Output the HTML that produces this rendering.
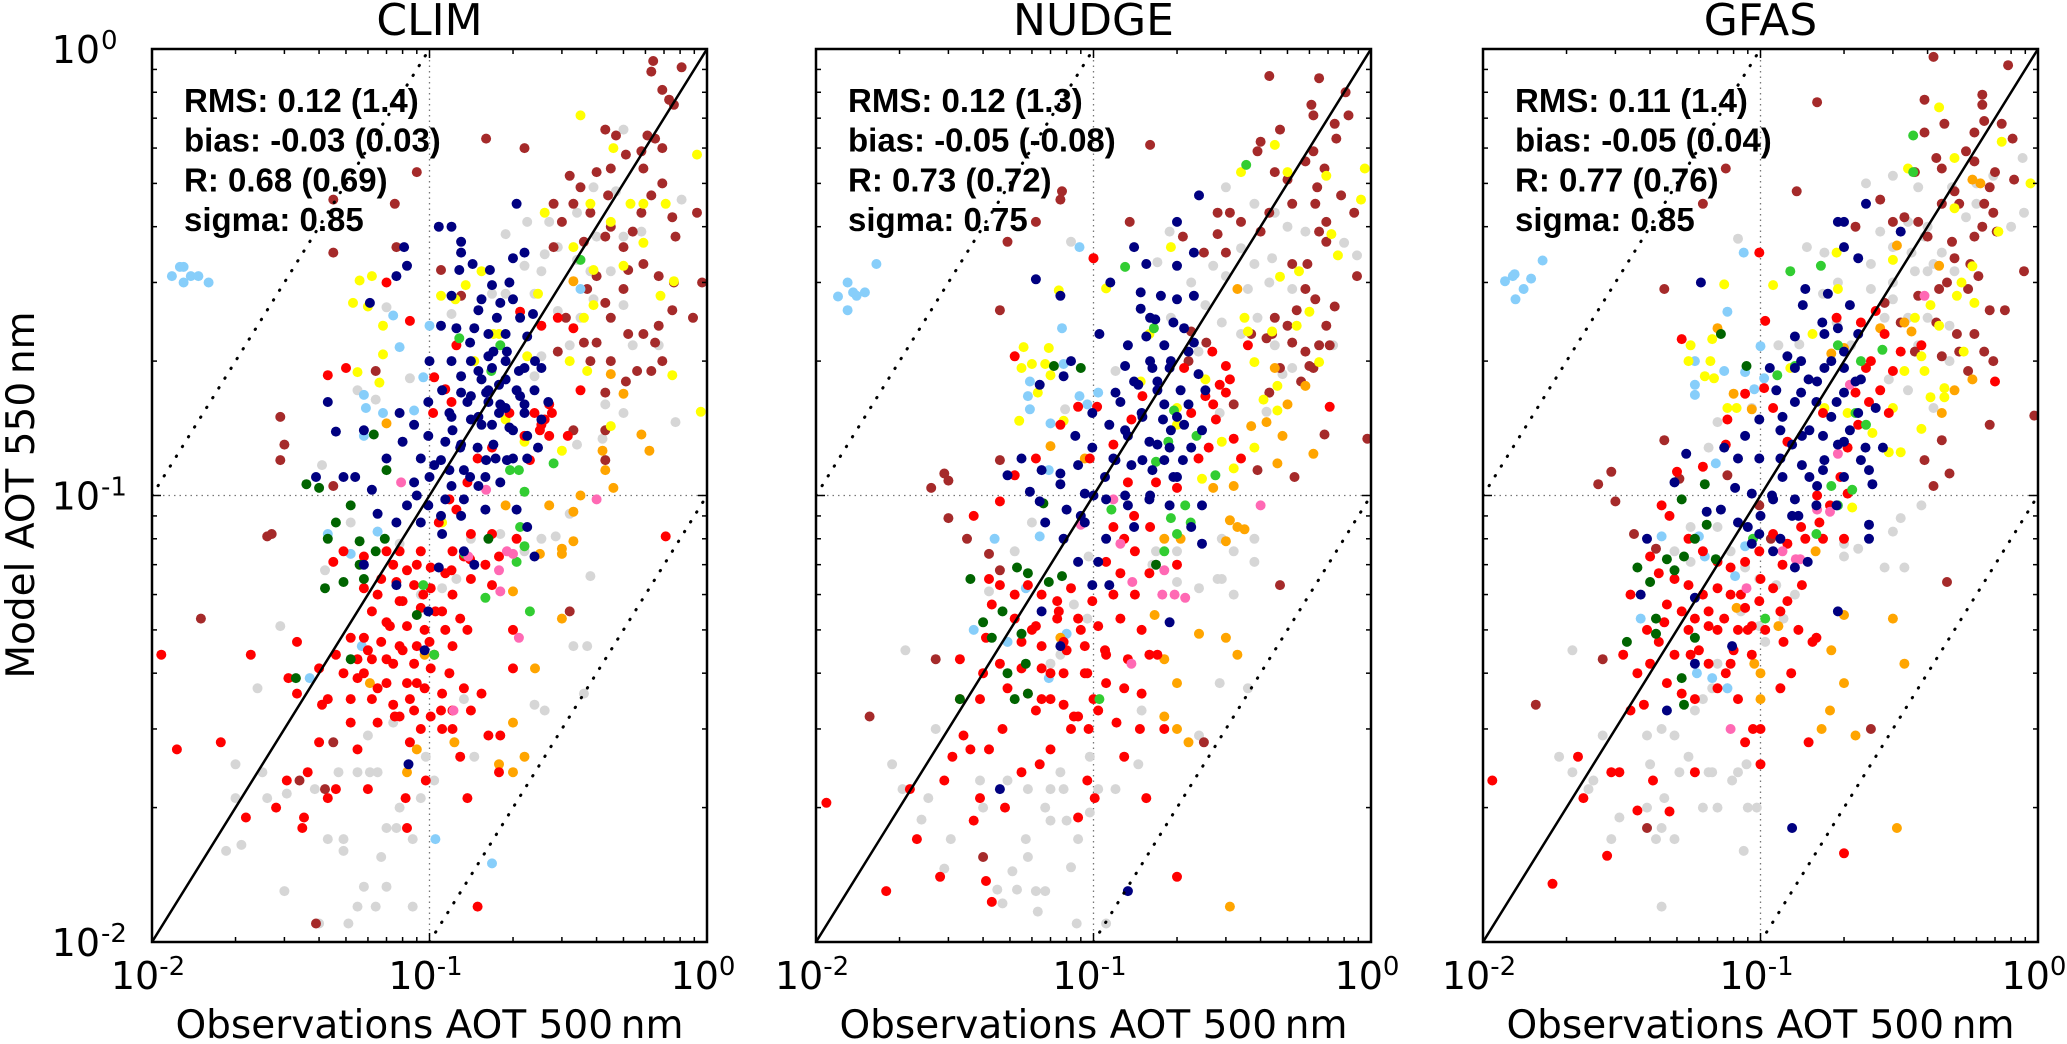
<!DOCTYPE html>
<html><head><meta charset="utf-8"><title>AOT scatter</title>
<style>
html,body{margin:0;padding:0;background:#fff;}
svg{display:block;font-family:"DejaVu Sans","Liberation Sans",sans-serif;}
</style></head>
<body>
<svg id="fig" width="2067" height="1044" viewBox="0 0 2067 1044" xmlns="http://www.w3.org/2000/svg">
<g id="root"></g>
</svg>
<script>
// ---------- data (observed AOT 500nm, model AOT 550nm) ----------
const panelTitles = ["CLIM", "NUDGE", "GFAS"];
const statsRMS = ["RMS: 0.12 (1.4)", "RMS: 0.12 (1.3)", "RMS: 0.11 (1.4)"];
const statsBias = ["bias: -0.03 (0.03)", "bias: -0.05 (-0.08)", "bias: -0.05 (0.04)"];
const statsR = ["R: 0.68 (0.69)", "R: 0.73 (0.72)", "R: 0.77 (0.76)"];
const statsSigma = ["sigma: 0.85", "sigma: 0.75", "sigma: 0.85"];
const majorTicks = [0.01, 0.1, 1];
const majorExp = ["-2", "-1", "0"];
const refLineFactors = [1, 10, 0.1];

const climBrown = [[.64,.94],[.63,.89],[.81,.91],[.69,.81],[.73,.77],[.76,.75],[.43,.66],[.47,.64],[.61,.64],[.65,.63],[.69,.6],[.58,.59],[.51,.58],[.45,.54],[.40,.53],[.32,.52],[.59,.54],[.69,.5],[.44,.47],[.35,.49],[.28,.45],[.33,.45],[.38,.43],[.63,.47],[.75,.42],[.92,.43],[.58,.43],[.54,.39],[.45,.4],[.30,.41],[.28,.36],[.36,.37],[.43,.38],[.5,.36],[.77,.38],[.59,.33],[.52,.32],[.4,.31],[.37,.29],[.43,.27],[.5,.29],[.67,.31],[.76,.3],[.96,.3],[.89,.25],[.75,.26],[.67,.24],[.59,.23],[.52,.23],[.45,.25],[.4,.22],[.36,.22],[.31,.25],[.29,.21],[.38,.2],[.45,.2],[.65,.22],[.69,.2],[.56,.19],[.51,.18],[.43,.17],[.63,.19],[.43,.14],[.43,.12],[.33,.14],[.16,.63],[.22,.6],[.09,.53],[.075,.45],[.045,.46],[.045,.35],[.076,.36],[.064,.19],[.029,.15],[.030,.13],[.029,.12],[.045,.105],[.026,.081],[.027,.082],[.015,.053],[.32,.055],[.042,.022],[.034,.023],[.045,.028],[.039,.011],[.13,.28],[.11,.32]];
const climNavy = [[.206,.45],[.12,.40],[.13,.37],[.13,.35],[.2,.34],[.22,.35],[.165,.32],[.143,.33],[.128,.32],[.081,.36],[.076,.31],[.061,.27],[.168,.296],[.194,.30],[.2,.275],[.236,.255],[.154,.275],[.175,.25],[.212,.25],[.125,.237],[.145,.237],[.163,.23],[.188,.23],[.225,.227],[.11,.24],[.10,.2],[.12,.2],[.141,.2],[.163,.205],[.188,.2],[.22,.193],[.253,.193],[.13,.185],[.154,.182],[.178,.177],[.206,.172],[.239,.172],[.268,.162],[.111,.172],[.141,.167],[.163,.162],[.188,.157],[.22,.153],[.253,.148],[.099,.162],[.118,.153],[.141,.148],[.168,.144],[.194,.142],[.225,.136],[.246,.128],[.078,.153],[.088,.144],[.099,.136],[.114,.132],[.129,.128],[.149,.128],[.173,.121],[.2,.121],[.225,.121],[.058,.14],[.046,.139],[.08,.132],[.093,.121],[.104,.117],[.118,.114],[.133,.114],[.159,.11],[.18,.107],[.07,.121],[.088,.107],[.099,.095],[.114,.098],[.133,.098],[.159,.093],[.206,.093],[.225,.085],[.239,.073],[.062,.103],[.054,.11],[.049,.11],[.039,.11],[.083,.095],[.093,.087],[.111,.082],[.133,.075],[.145,.07],[.108,.069],[.076,.087],[.065,.091],[.058,.07],[.076,.063],[.099,.055],[.096,.045],[.084,.025],[.043,.162],[.108,.40],[.083,.327],[.163,.172],[.178,.153],[.154,.144],[.188,.182],[.168,.193],[.137,.162],[.212,.167],[.121,.14]];
const climNavyCore = [[.15,.19],[.17,.21],[.14,.22],[.19,.21],[.21,.19],[.16,.17],[.18,.16],[.13,.17],[.12,.15],[.15,.15],[.2,.14],[.17,.13],[.13,.13],[.11,.12],[.14,.11],[.16,.12],[.19,.12],[.12,.105],[.1,.11],[.09,.1],[.11,.09],[.13,.09],[.15,.105],[.22,.16],[.24,.2],[.18,.27],[.15,.26],[.12,.28]];
const climRed = [[.07,.3],[.085,.246],[.043,.186],[.05,.193],[.104,.184],[.114,.173],[.125,.217],[.212,.258],[.253,.24],[.29,.25],[.33,.237],[.35,.172],[.239,.153],[.26,.148],[.276,.153],[.253,.144],[.27,.136],[.315,.136],[.22,.136],[.194,.153],[.12,.162],[.103,.153],[.168,.128],[.149,.121],[.137,.107],[.118,.098],[.125,.093],[.108,.087],[.141,.082],[.168,.082],[.206,.08],[.178,.073],[.159,.07],[.133,.073],[.121,.075],[.093,.075],[.078,.075],[.07,.075],[.058,.073],[.049,.075],[.045,.071],[.074,.07],[.083,.068],[.09,.07],[.101,.069],[.114,.067],[.067,.065],[.076,.064],[.088,.063],[.101,.062],[.121,.06],[.141,.065],[.168,.063],[.058,.062],[.065,.06],[.078,.058],[.093,.056],[.111,.055],[.129,.053],[.062,.055],[.072,.051],[.083,.051],[.096,.05],[.114,.05],[.137,.05],[.052,.048],[.058,.048],[.067,.047],[.078,.046],[.09,.046],[.104,.044],[.121,.046],[.046,.044],[.055,.043],[.062,.043],[.074,.042],[.088,.042],[.101,.041],[.118,.04],[.04,.041],[.049,.04],[.058,.04],[.07,.038],[.083,.038],[.096,.037],[.111,.036],[.133,.037],[.154,.036],[.043,.035],[.052,.035],[.062,.035],[.074,.034],[.088,.033],[.101,.032],[.121,.033],[.141,.033],[.065,.031],[.078,.032],[.093,.030],[.111,.030],[.052,.031],[.041,.034],[.121,.03],[.129,.026],[.163,.029],[.178,.024],[.137,.021],[.2,.05],[.2,.041],[.0123,.027],[.0177,.028],[.0218,.019],[.0227,.044],[.0108,.044],[.031,.039],[.0333,.047],[.0333,.036],[.04,.028],[.0364,.024],[.0306,.023],[.0353,.019],[.0348,.018],[.028,.020],[.043,.021],[.046,.022],[.055,.027],[.06,.022],[.083,.018],[.082,.021],[.097,.023],[.149,.012],[.18,.029],[.71,.081]];
const climRedExtra = [[.08,.045],[.085,.035],[.07,.043],[.09,.038],[.075,.032],[.1,.047],[.065,.037],[.06,.045],[.07,.052],[.095,.06],[.105,.055],[.085,.028],[.11,.033],[.055,.039],[.08,.058],[.12,.068],[.14,.072],[.25,.14],[.27,.16],[.23,.12]];
const climGray = [[.5,.66],[.47,.48],[.39,.49],[.34,.43],[.27,.41],[.225,.41],[.188,.385],[.26,.347],[.29,.36],[.34,.337],[.4,.38],[.5,.38],[.58,.39],[.38,.318],[.45,.318],[.253,.318],[.22,.327],[.188,.283],[.168,.283],[.239,.283],[.29,.259],[.35,.25],[.39,.275],[.5,.267],[.54,.217],[.67,.217],[.81,.46],[.89,.25],[.77,.146],[.43,.16],[.34,.13],[.42,.134],[.5,.153],[.32,.217],[.253,.205],[.239,.185],[.12,.255],[.07,.264],[.085,.183],[.055,.172],[.064,.164],[.041,.117],[.052,.087],[.042,.068],[.065,.083],[.078,.078],[.093,.075],[.141,.08],[.18,.082],[.22,.075],[.253,.08],[.285,.081],[.32,.091],[.38,.066],[.37,.046],[.33,.046],[.239,.034],[.26,.033],[.36,.036],[.125,.065],[.111,.062],[.093,.06],[.024,.037],[.029,.051],[.020,.025],[.020,.021],[.0185,.016],[.021,.0165],[.026,.021],[.0306,.0215],[.025,.024],[.0386,.022],[.043,.017],[.049,.017],[.049,.016],[.055,.024],[.061,.024],[.065,.024],[.07,.018],[.076,.018],[.087,.017],[.078,.02],[.093,.021],[.104,.023],[.067,.0155],[.055,.012],[.064,.012],[.07,.0133],[.058,.0133],[.087,.012],[.030,.013],[.04,.011],[.051,.011],[.145,.026],[.121,.033],[.133,.035],[.074,.031],[.06,.029],[.047,.024],[.097,.026]];
const climYellow = [[.35,.71],[.46,.6],[.92,.58],[.71,.45],[.53,.45],[.59,.45],[.26,.43],[.38,.45],[.45,.41],[.33,.36],[.39,.32],[.5,.327],[.59,.368],[.76,.302],[.68,.28],[.39,.267],[.36,.25],[.32,.2],[.37,.19],[.75,.186],[.95,.154],[.45,.143],[.30,.126],[.22,.132],[.188,.148],[.17,.23],[.145,.2],[.246,.283],[.154,.318],[.135,.296],[.056,.303],[.062,.31],[.053,.27],[.06,.265],[.068,.24],[.068,.207],[.055,.189],[.066,.179],[.11,.28],[.124,.275],[.111,.087],[.225,.205],[.178,.23]];
const climLightBlue = [[.0118,.31],[.0126,.325],[.013,.325],[.013,.3],[.0138,.31],[.0147,.31],[.016,.3],[.074,.253],[.078,.215],[.058,.168],[.059,.157],[.068,.153],[.058,.136],[.1,.24],[.095,.184],[.088,.155],[.043,.082],[.052,.074],[.065,.083],[.057,.046],[.037,.039],[.085,.028],[.105,.017],[.168,.015],[.35,.29]];
const climOrange = [[.33,.302],[.45,.187],[.5,.169],[.58,.137],[.62,.126],[.42,.126],[.43,.114],[.46,.104],[.35,.1],[.33,.092],[.3,.076],[.3,.074],[.33,.079],[.25,.074],[.27,.095],[.2,.061],[.3,.053],[.24,.041],[.2,.031],[.178,.025],[.2,.024],[.22,.026],[.123,.028],[.09,.027],[.083,.024],[.061,.038],[.096,.044],[.07,.145],[.188,.095]];
const climGreen = [[.35,.337],[.28,.118],[.21,.114],[.195,.114],[.22,.102],[.212,.085],[.22,.077],[.206,.071],[.159,.059],[.23,.055],[.095,.063],[.104,.044],[.134,.074],[.128,.225],[.167,.19],[.18,.217]];
const climDarkGreen = [[.063,.137],[.036,.106],[.04,.104],[.046,.087],[.052,.095],[.043,.08],[.056,.079],[.069,.08],[.064,.075],[.056,.07],[.042,.062],[.049,.064],[.058,.065],[.09,.054],[.052,.043],[.033,.039],[.163,.08],[.07,.114]];
const climPink = [[.40,.098],[.2,.074],[.21,.048],[.18,.061],[.178,.068],[.138,.073],[.16,.103],[.122,.033],[.079,.107],[.19,.075]];

const nudgeBrown = [[.43,.87],[.65,.86],[.81,.8],[.61,.75],[.62,.71],[.74,.68],[.47,.66],[.83,.71],[.75,.63],[.39,.59],[.40,.62],[.62,.59],[.58,.56],[.68,.54],[.45,.53],[.5,.51],[.64,.49],[.78,.47],[.52,.45],[.63,.45],[.87,.43],[.43,.43],[.69,.41],[.65,.39],[.34,.41],[.31,.43],[.28,.43],[.28,.385],[.25,.35],[.3,.35],[.4,.39],[.52,.33],[.59,.33],[.69,.37],[.58,.29],[.63,.275],[.74,.265],[.54,.26],[.45,.25],[.37,.23],[.44,.23],[.5,.24],[.52,.22],[.58,.21],[.65,.217],[.71,.217],[.69,.24],[.42,.225],[.6,.195],[.62,.193],[.56,.18],[.47,.193],[.43,.17],[.32,.16],[.39,.114],[.53,.11],[.68,.137],[.97,.134],[.89,.31],[.21,.38],[.16,.61],[.135,.41],[.077,.48],[.076,.46],[.062,.41],[.049,.37],[.046,.26],[.1,.34],[.046,.12],[.029,.112],[.03,.108],[.026,.104],[.03,.089],[.035,.08],[.042,.074],[.046,.068],[.027,.043],[.0156,.032],[.04,.0155],[.25,.028],[.47,.063],[.255,.22],[.22,.2],[.225,.233]];
const nudgeNavy = [[.24,.47],[.2,.41],[.14,.36],[.155,.33],[.2,.327],[.23,.35],[.115,.3],[.062,.305],[.148,.285],[.175,.28],[.2,.275],[.23,.28],[.148,.262],[.133,.217],[.105,.23],[.083,.2],[.078,.185],[.13,.195],[.167,.248],[.194,.244],[.212,.237],[.155,.227],[.18,.217],[.22,.21],[.163,.193],[.188,.193],[.239,.187],[.145,.177],[.17,.172],[.206,.172],[.253,.172],[.125,.162],[.149,.153],[.178,.148],[.212,.144],[.246,.14],[.099,.153],[.114,.144],[.133,.136],[.159,.132],[.188,.128],[.225,.128],[.086,.136],[.099,.128],[.118,.121],[.137,.117],[.163,.114],[.194,.11],[.088,.117],[.076,.112],[.065,.114],[.055,.121],[.049,.111],[.059,.102],[.076,.106],[.093,.101],[.111,.098],[.133,.095],[.159,.098],[.188,.095],[.246,.095],[.246,.078],[.225,.085],[.064,.097],[.08,.093],[.093,.087],[.111,.08],[.067,.087],[.078,.08],[.088,.071],[.099,.063],[.114,.063],[.104,.071],[.065,.055],[.076,.046],[.188,.052],[.046,.022],[.133,.013],[.076,.28],[.064,.177]];
const nudgeNavyCore = [[.14,.18],[.16,.2],[.18,.16],[.2,.15],[.15,.15],[.17,.13],[.13,.14],[.12,.12],[.15,.12],[.18,.12],[.2,.11],[.11,.11],[.1,.1],[.13,.1],[.16,.1],[.19,.14],[.22,.16],[.17,.18],[.12,.17],[.21,.12],[.09,.09],[.14,.085],[.16,.25],[.19,.2],[.23,.22]];
const nudgeRed = [[.1,.34],[.052,.205],[.088,.158],[.103,.158],[.076,.144],[.062,.121],[.052,.111],[.097,.121],[.118,.13],[.133,.107],[.168,.107],[.2,.104],[.239,.121],[.26,.128],[.225,.153],[.253,.167],[.285,.177],[.276,.148],[.31,.182],[.32,.134],[.34,.121],[.268,.21],[.36,.217],[.3,.195],[.71,.158],[.212,.193],[.15,.167],[.137,.148],[.037,.09],[.046,.097],[.042,.065],[.118,.085],[.129,.08],[.141,.075],[.111,.071],[.125,.067],[.159,.067],[.2,.07],[.141,.06],[.118,.06],[.099,.058],[.083,.062],[.074,.058],[.065,.06],[.058,.063],[.052,.06],[.046,.063],[.043,.057],[.052,.053],[.062,.051],[.074,.053],[.088,.053],[.104,.051],[.125,.053],[.149,.05],[.055,.047],[.065,.046],[.078,.047],[.093,.046],[.111,.044],[.133,.043],[.159,.044],[.046,.042],[.055,.041],[.065,.041],[.078,.04],[.093,.04],[.111,.038],[.129,.037],[.149,.036],[.049,.037],[.058,.036],[.07,.035],[.078,.034],[.088,.032],[.104,.033],[.121,.031],[.062,.033],[.083,.03],[.096,.03],[.039,.035],[.033,.035],[.04,.04],[.033,.043],[.041,.048],[.034,.029],[.036,.027],[.042,.027],[.047,.03],[.031,.026],[.029,.023],[.039,.021],[.048,.02],[.055,.024],[.064,.025],[.07,.027],[.095,.023],[.101,.021],[.088,.019],[.129,.026],[.147,.03],[.155,.021],[.18,.03],[.17,.044],[.2,.014],[.0109,.0205],[.0218,.022],[.0231,.017],[.0179,.013],[.028,.014],[.041,.0137],[.043,.0123],[.037,.0187]];
const nudgeRedExtra = [[.08,.045],[.07,.04],[.09,.05],[.1,.035],[.085,.032],[.075,.055],[.06,.05],[.11,.045],[.095,.04],[.065,.035],[.14,.09],[.16,.085],[.27,.16],[.3,.17]];
const nudgeGray = [[.188,.39],[.3,.49],[.38,.45],[.45,.43],[.5,.4],[.58,.39],[.34,.358],[.38,.33],[.44,.34],[.27,.327],[.3,.31],[.36,.29],[.43,.3],[.52,.29],[.225,.3],[.19,.25],[.253,.267],[.29,.244],[.34,.23],[.39,.25],[.45,.217],[.52,.193],[.73,.217],[.89,.345],[.8,.368],[.42,.154],[.48,.187],[.239,.21],[.285,.153],[.17,.333],[.083,.37],[.079,.156],[.12,.19],[.168,.075],[.2,.075],[.29,.08],[.32,.075],[.38,.08],[.29,.065],[.38,.071],[.32,.06],[.28,.065],[.24,.062],[.2,.064],[.163,.07],[.096,.073],[.085,.057],[.095,.053],[.076,.044],[.07,.042],[.06,.087],[.052,.075],[.042,.061],[.049,.047],[.021,.045],[.027,.03],[.0188,.025],[.0205,.022],[.0254,.021],[.024,.0188],[.0306,.017],[.029,.0146],[.039,.023],[.04,.02],[.049,.023],[.058,.022],[.07,.022],[.076,.024],[.078,.022],[.067,.02],[.07,.0187],[.08,.0187],[.088,.017],[.097,.0195],[.104,.022],[.12,.022],[.097,.026],[.145,.025],[.149,.033],[.24,.029],[.36,.037],[.285,.038],[.057,.017],[.058,.0155],[.051,.0144],[.062,.013],[.067,.013],[.053,.0131],[.047,.0122],[.045,.0131],[.083,.0147],[.087,.011],[.111,.011],[.063,.0117]];
const nudgeYellow = [[.45,.61],[.34,.53],[.5,.53],[.69,.52],[.95,.54],[.92,.46],[.76,.345],[.72,.385],[.55,.318],[.47,.309],[.6,.258],[.54,.24],[.44,.233],[.38,.199],[.35,.25],[.36,.233],[.65,.199],[.46,.176],[.46,.155],[.41,.164],[.38,.128],[.29,.132],[.32,.115],[.246,.109],[.253,.182],[.2,.144],[.159,.23],[.148,.18],[.19,.36],[.111,.291],[.075,.288],[.056,.215],[.069,.214],[.06,.197],[.055,.193],[.067,.197],[.07,.186],[.063,.17],[.054,.147],[.078,.147],[.2,.157]];
const nudgeLightBlue = [[.012,.279],[.013,.3],[.0136,.285],[.014,.28],[.015,.285],[.013,.26],[.0165,.33],[.089,.36],[.077,.237],[.078,.197],[.059,.18],[.058,.167],[.059,.156],[.095,.16],[.104,.17],[.089,.167],[.07,.145],[.069,.114],[.044,.08],[.064,.081],[.057,.062],[.037,.05],[.049,.047],[.069,.039],[.08,.049]];
const nudgeOrange = [[.33,.29],[.45,.193],[.58,.176],[.5,.16],[.37,.143],[.42,.146],[.48,.136],[.62,.124],[.46,.118],[.32,.105],[.27,.104],[.31,.088],[.33,.085],[.35,.084],[.3,.079],[.206,.08],[.18,.08],[.166,.054],[.24,.049],[.3,.048],[.33,.044],[.2,.038],[.18,.032],[.2,.03],[.22,.028],[.18,.043],[.31,.012],[.07,.129],[.076,.048],[.093,.121]];
const nudgeGreen = [[.355,.55],[.13,.325],[.165,.237],[.195,.155],[.186,.132],[.235,.136],[.275,.111],[.214,.095],[.19,.089],[.224,.087],[.18,.075],[.2,.082],[.105,.035],[.116,.093],[.168,.119]];
const nudgeDarkGreen = [[.072,.195],[.09,.193],[.066,.096],[.036,.065],[.053,.069],[.058,.067],[.069,.064],[.077,.066],[.04,.052],[.043,.048],[.049,.04],[.057,.042],[.052,.035],[.058,.036],[.033,.035],[.047,.055],[.168,.07],[.055,.049]];
const nudgePink = [[.4,.095],[.18,.068],[.177,.06],[.196,.06],[.214,.059],[.137,.042],[.138,.064],[.125,.078],[.09,.086],[.118,.098]];

const gfasBrown = [[.42,.96],[.78,.92],[.63,.79],[.63,.75],[.39,.77],[.64,.69],[.74,.68],[.59,.65],[.46,.68],[.39,.65],[.81,.63],[.43,.57],[.45,.54],[.55,.59],[.59,.56],[.7,.53],[.82,.51],[.67,.49],[.5,.48],[.45,.45],[.52,.45],[.64,.45],[.69,.43],[.63,.4],[.36,.53],[.27,.46],[.3,.41],[.33,.42],[.37,.41],[.4,.38],[.49,.37],[.59,.38],[.71,.39],[.57,.33],[.5,.34],[.44,.29],[.61,.31],[.56,.29],[.67,.26],[.76,.26],[.47,.3],[.37,.28],[.28,.27],[.32,.244],[.43,.244],[.51,.23],[.59,.23],[.64,.21],[.69,.2],[.56,.19],[.52,.21],[.45,.205],[.36,.21],[.67,.144],[.97,.151],[.45,.133],[.48,.112],[.39,.12],[.42,.105],[.89,.318],[.47,.064],[.25,.03],[.22,.4],[.16,.76],[.135,.48],[.075,.54],[.062,.45],[.045,.29],[.045,.133],[.029,.113],[.026,.106],[.03,.097],[.035,.082],[.042,.076],[.051,.109],[.076,.111],[.027,.043],[.0155,.034],[.039,.018],[.109,.08],[.099,.095]];
const gfasNavy = [[.24,.45],[.2,.41],[.32,.39],[.2,.36],[.225,.34],[.061,.3],[.145,.29],[.175,.283],[.21,.267],[.142,.267],[.133,.227],[.167,.244],[.19,.237],[.225,.23],[.133,.193],[.149,.182],[.17,.193],[.2,.193],[.23,.182],[.114,.172],[.133,.162],[.159,.162],[.188,.162],[.225,.153],[.26,.157],[.099,.148],[.118,.14],[.141,.136],[.168,.136],[.2,.132],[.239,.128],[.276,.128],[.088,.136],[.074,.128],[.083,.121],[.099,.121],[.118,.121],[.141,.117],[.168,.114],[.2,.11],[.246,.114],[.253,.106],[.054,.124],[.049,.107],[.081,.104],[.093,.101],[.111,.098],[.133,.098],[.159,.095],[.188,.095],[.246,.086],[.246,.08],[.064,.092],[.072,.093],[.083,.087],[.099,.082],[.118,.08],[.137,.09],[.148,.071],[.133,.069],[.111,.075],[.093,.078],[.039,.08],[.037,.06],[.058,.059],[.079,.046],[.058,.042],[.046,.033],[.19,.055],[.13,.018],[.19,.41],[.125,.205],[.108,.193]];
const gfasNavyCore = [[.14,.17],[.16,.18],[.18,.15],[.2,.17],[.15,.14],[.17,.12],[.13,.13],[.12,.11],[.15,.11],[.19,.13],[.21,.14],[.11,.1],[.1,.09],[.13,.09],[.16,.105],[.22,.18],[.18,.2],[.12,.15],[.23,.12],[.09,.085],[.14,.2],[.17,.23],[.2,.21]];
const gfasRed = [[.099,.35],[.052,.224],[.104,.246],[.088,.169],[.103,.174],[.076,.148],[.075,.13],[.062,.116],[.05,.113],[.111,.157],[.125,.132],[.188,.25],[.23,.244],[.26,.259],[.28,.23],[.32,.21],[.38,.217],[.24,.193],[.27,.172],[.246,.162],[.225,.144],[.206,.128],[.29,.153],[.7,.18],[.168,.153],[.194,.11],[.206,.101],[.178,.095],[.163,.087],[.145,.08],[.125,.078],[.111,.082],[.099,.075],[.088,.071],[.078,.069],[.07,.071],[.062,.075],[.055,.08],[.047,.09],[.044,.095],[.04,.073],[.043,.067],[.049,.065],[.055,.063],[.062,.06],[.07,.062],[.078,.06],[.088,.056],[.099,.058],[.111,.062],[.125,.058],[.141,.063],[.168,.08],[.2,.08],[.118,.055],[.046,.057],[.052,.055],[.058,.053],[.065,.051],[.074,.053],[.083,.05],[.093,.051],[.104,.05],[.121,.047],[.137,.05],[.154,.047],[.034,.06],[.039,.05],[.043,.047],[.049,.044],[.056,.044],[.065,.042],[.078,.042],[.093,.044],[.032,.044],[.036,.04],[.04,.042],[.046,.038],[.052,.036],[.058,.035],[.07,.037],[.083,.035],[.094,.03],[.1,.03],[.118,.037],[.129,.04],[.034,.033],[.038,.034],[.029,.024],[.031,.024],[.022,.026],[.023,.021],[.0108,.023],[.0178,.0135],[.028,.0156],[.036,.0197],[.041,.023],[.047,.0196],[.058,.024],[.088,.028],[.1,.025],[.149,.028],[.2,.0158],[.159,.048]];
const gfasRedExtra = [[.07,.05],[.08,.045],[.065,.055],[.09,.05],[.075,.04],[.06,.045],[.085,.06],[.1,.065],[.12,.07],[.055,.05],[.045,.052],[.14,.085],[.16,.1],[.22,.17],[.25,.2],[.3,.19]];
const gfasGray = [[.24,.5],[.3,.52],[.37,.49],[.45,.45],[.49,.49],[.6,.45],[.69,.52],[.88,.57],[.8,.4],[.89,.43],[.34,.41],[.39,.38],[.45,.35],[.27,.39],[.3,.36],[.25,.33],[.36,.318],[.4,.318],[.5,.318],[.25,.29],[.3,.275],[.34,.25],[.4,.25],[.48,.24],[.37,.217],[.48,.2],[.42,.157],[.34,.172],[.29,.182],[.19,.3],[.168,.283],[.188,.244],[.212,.217],[.147,.36],[.17,.35],[.083,.376],[.138,.218],[.116,.217],[.093,.157],[.07,.146],[.065,.128],[.056,.085],[.049,.075],[.056,.071],[.07,.085],[.078,.075],[.088,.069],[.099,.065],[.114,.063],[.133,.06],[.085,.055],[.099,.051],[.121,.053],[.104,.047],[.07,.042],[.067,.037],[.076,.037],[.159,.048],[.2,.073],[.225,.076],[.28,.069],[.33,.069],[.3,.083],[.32,.089],[.38,.095],[.021,.045],[.027,.029],[.0188,.026],[.021,.024],[.024,.022],[.025,.023],[.031,.019],[.029,.017],[.039,.029],[.044,.03],[.049,.029],[.04,.025],[.039,.02],[.045,.021],[.044,.018],[.049,.017],[.042,.017],[.051,.024],[.055,.026],[.058,.024],[.065,.024],[.067,.024],[.062,.02],[.07,.02],[.079,.023],[.083,.024],[.089,.025],[.09,.02],[.097,.02],[.087,.016],[.058,.033],[.062,.035],[.044,.012],[.2,.078],[.3,.3],[.35,.35],[.4,.4],[.42,.33],[.28,.25],[.55,.42],[.6,.5]];
const gfasYellow = [[.44,.74],[.34,.54],[.5,.57],[.74,.62],[.94,.5],[.5,.44],[.72,.39],[.58,.326],[.53,.3],[.51,.28],[.59,.27],[.41,.267],[.36,.25],[.44,.24],[.54,.21],[.38,.205],[.33,.19],[.46,.174],[.46,.166],[.41,.166],[.39,.19],[.38,.141],[.3,.157],[.29,.125],[.32,.125],[.253,.138],[.206,.153],[.19,.29],[.3,.337],[.154,.23],[.128,.193],[.17,.157],[.214,.094],[.188,.35],[.111,.296],[.074,.297],[.056,.217],[.067,.224],[.055,.2],[.066,.2],[.063,.185],[.068,.183],[.076,.157],[.082,.157]];
const gfasLightBlue = [[.012,.302],[.0128,.31],[.013,.313],[.014,.29],[.0149,.306],[.0131,.275],[.0164,.336],[.087,.35],[.076,.258],[.1,.216],[.058,.2],[.058,.177],[.058,.168],[.074,.19],[.088,.189],[.103,.183],[.095,.173],[.069,.118],[.044,.081],[.06,.081],[.063,.073],[.088,.077],[.081,.066],[.037,.053],[.067,.039],[.059,.04],[.076,.037]];
const gfasOrange = [[.58,.51],[.62,.5],[.31,.363],[.44,.327],[.33,.244],[.35,.233],[.27,.237],[.58,.182],[.5,.172],[.45,.153],[.18,.208],[.2,.214],[.07,.237],[.08,.169],[.093,.156],[.158,.075],[.2,.054],[.3,.053],[.18,.045],[.33,.042],[.2,.038],[.1,.04],[.1,.035],[.095,.042],[.178,.033],[.166,.03],[.22,.029],[.31,.018],[.082,.056],[.116,.051]];
const gfasGreen = [[.355,.64],[.355,.53],[.128,.318],[.165,.327],[.133,.195],[.115,.186],[.19,.217],[.23,.2],[.22,.153],[.275,.212],[.18,.105],[.214,.103],[.19,.095],[.159,.082],[.094,.08],[.104,.053],[.24,.144]];
const gfasDarkGreen = [[.072,.23],[.089,.195],[.063,.106],[.052,.098],[.064,.086],[.058,.08],[.053,.073],[.046,.072],[.049,.068],[.036,.069],[.069,.072],[.04,.064],[.042,.053],[.042,.049],[.033,.047],[.053,.034],[.052,.039],[.058,.048]];
const gfasPink = [[.39,.28],[.21,.177],[.19,.124],[.16,.093],[.178,.092],[.134,.072],[.139,.072],[.089,.062],[.078,.03],[.12,.075]];

const seriesNames = ["gray","brown","lightblue","yellow","orange","red","darkgreen","green","pink","navy"];
const seriesColors = {gray:"#d6d6d6",brown:"#a52a2a",lightblue:"#87cefa",yellow:"#ffff00",orange:"#ffa500",red:"#ff0000",darkgreen:"#006400",green:"#32cd32",pink:"#ff69b4",navy:"#000080"};
const panelSeries = [
  {gray:climGray,brown:climBrown,lightblue:climLightBlue,yellow:climYellow,orange:climOrange,red:climRed.concat(climRedExtra),darkgreen:climDarkGreen,green:climGreen,pink:climPink,navy:climNavy.concat(climNavyCore)},
  {gray:nudgeGray,brown:nudgeBrown,lightblue:nudgeLightBlue,yellow:nudgeYellow,orange:nudgeOrange,red:nudgeRed.concat(nudgeRedExtra),darkgreen:nudgeDarkGreen,green:nudgeGreen,pink:nudgePink,navy:nudgeNavy.concat(nudgeNavyCore)},
  {gray:gfasGray,brown:gfasBrown,lightblue:gfasLightBlue,yellow:gfasYellow,orange:gfasOrange,red:gfasRed.concat(gfasRedExtra),darkgreen:gfasDarkGreen,green:gfasGreen,pink:gfasPink,navy:gfasNavy.concat(gfasNavyCore)}
];

// ---------- layout ----------
const NS = "http://www.w3.org/2000/svg";
const root = document.getElementById("root");
const panelLeft = [152, 816, 1483];
const PW = 555, PT = 49, PH = 893;
const LMIN = -2, LMAX = 0;
function sx(v, L){ return L + (Math.log10(v) - LMIN) / (LMAX - LMIN) * PW; }
function sy(v){ return PT + (LMAX - Math.log10(v)) / (LMAX - LMIN) * PH; }
function mk(tag, attrs, parent){
  const e = document.createElementNS(NS, tag);
  for (const k in attrs) e.setAttribute(k, attrs[k]);
  (parent || root).appendChild(e);
  return e;
}

const defs = mk("defs", {});
panelTitles.forEach((title, p) => {
  const L = panelLeft[p];
  const g = mk("g", {});
  
  

  const cp = mk("clipPath", {id: "clip" + p}, defs);
  mk("rect", {x: L, y: PT, width: PW, height: PH}, cp);

  const t = mk("text", {x: L + PW/2, y: 35, "text-anchor": "middle", "font-size": 44, fill: "#000"}, g);
  t.textContent = title;
  
  

  const plot = mk("g", {"clip-path": "url(#clip" + p + ")"}, g);
  
  

  const gx = mk("line", {x1: sx(0.1, L), x2: sx(0.1, L), y1: PT, y2: PT + PH, stroke: "#777", "stroke-width": 1.3, "stroke-dasharray": "1.5 4"}, plot);
  
  
  const gy = mk("line", {x1: L, x2: L + PW, y1: sy(0.1), y2: sy(0.1), stroke: "#777", "stroke-width": 1.3, "stroke-dasharray": "1.5 4"}, plot);
  
  

  seriesNames.forEach(name => {
    const pts = panelSeries[p][name];
    const sg = mk("g", {fill: seriesColors[name]}, plot);
    
    
    pts.forEach(d => {
      const c = mk("circle", {cx: sx(d[0], L).toFixed(1), cy: sy(d[1]).toFixed(1), r: 5}, sg);
      
      
    });
  });

  refLineFactors.forEach(f => {
    const x0 = Math.max(0.01, 0.01 / f), x1 = Math.min(1, 1 / f);
    const ln = mk("line", {x1: sx(x0, L), y1: sy(x0 * f), x2: sx(x1, L), y2: sy(x1 * f), stroke: "#000",
      "stroke-width": f === 1 ? 2.5 : 3, "stroke-linecap": "round"}, plot);
    if (f !== 1) ln.setAttribute("stroke-dasharray", "0.5 11");
    
    
  });

  const tg = mk("g", {stroke: "#000", "stroke-width": 1.5}, g);
  
  
  for (let d = -2; d <= 0; d++) {
    for (let k = 1; k <= 9; k++) {
      const v = k * Math.pow(10, d);
      if (v > 1.0001) break;
      const len = k === 1 ? 9 : 5;
      const X = sx(v, L), Y = sy(v);
      mk("line", {x1: X, x2: X, y1: PT + PH, y2: PT + PH - len}, tg);
      mk("line", {x1: X, x2: X, y1: PT, y2: PT + len}, tg);
      mk("line", {x1: L, x2: L + len, y1: Y, y2: Y}, tg);
      mk("line", {x1: L + PW, x2: L + PW - len, y1: Y, y2: Y}, tg);
    }
  }

  const fr = mk("rect", {x: L, y: PT, width: PW, height: PH, fill: "none", stroke: "#000", "stroke-width": 2.5}, g);
  
  

  majorTicks.forEach((v, i) => {
    const tx = mk("text", {x: sx(v, L) - 4, y: 989, "text-anchor": "middle", "font-size": 38}, g);
    const a = mk("tspan", {}, tx); a.textContent = "10";
    const b = mk("tspan", {"font-size": 26, dy: -14}, tx); b.textContent = majorExp[i];
    
    
  });
  if (p === 0) {
    majorTicks.forEach((v, i) => {
      const ty = mk("text", {x: 100, y: sy(v) + 14, "text-anchor": "end", "font-size": 38}, g);
      const a = mk("tspan", {}, ty); a.textContent = "10";
      
      
      const sup = mk("text", {x: 101, y: sy(v), "text-anchor": "start", "font-size": 26}, g);
      sup.textContent = majorExp[i];
      
      
    });
  }

  const xl = mk("text", {x: L + PW/2, y: 1038, "text-anchor": "middle", "font-size": 39}, g);
  xl.textContent = "Observations AOT 500\u2009nm";
  
  

  const st = [statsRMS[p], statsBias[p], statsR[p], statsSigma[p]];
  st.forEach((s, i) => {
    const tt = mk("text", {x: L + 32, y: 112 + i * 39.7, "font-size": 33, "font-weight": "bold",
      "font-family": "'Liberation Sans', Arial, sans-serif"}, g);
    tt.textContent = s;
    
    
  });
});

const yl = mk("text", {x: 0, y: 0, transform: "translate(34,495) rotate(-90)", "text-anchor": "middle", "font-size": 39});
yl.textContent = "Model AOT 550\u2009nm";


</script>
</body></html>
